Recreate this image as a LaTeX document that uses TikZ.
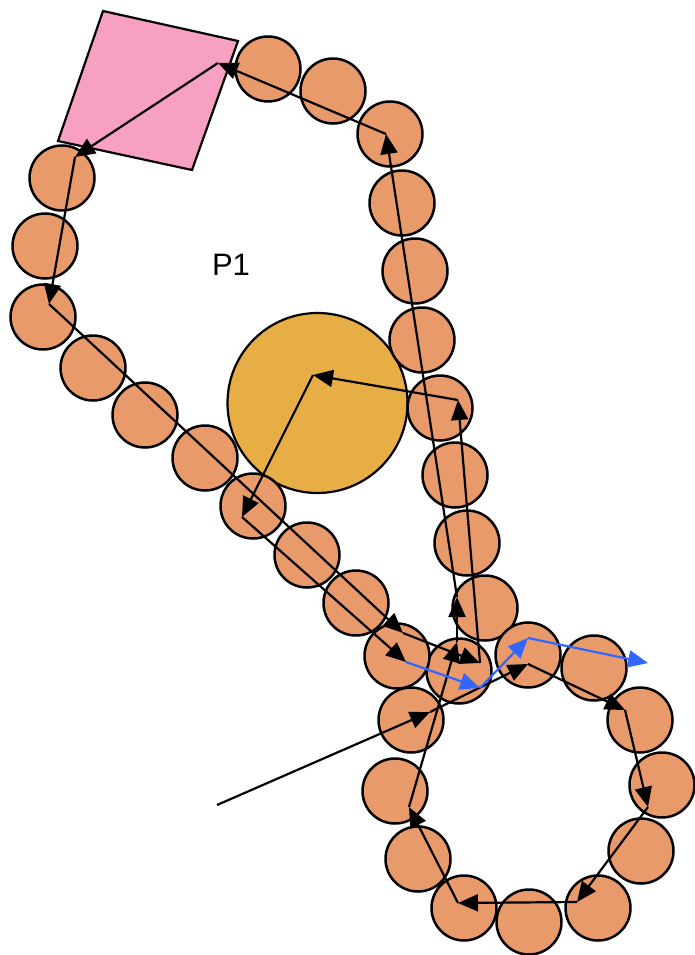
\documentclass[tikz,border=0pt]{standalone}
\usepackage{fontspec}
\setmainfont{Liberation Sans}
\usetikzlibrary{arrows.meta}
\definecolor{beadcol}{RGB}{233,154,106}
\definecolor{goldcol}{RGB}{230,174,68}
\definecolor{pinkcol}{RGB}{248,160,194}
\definecolor{bluecol}{RGB}{51,102,255}
\tikzset{
  bead/.style={circle, draw=black, line width=2.5pt, fill=beadcol, minimum size=65pt, inner sep=0pt},
  bigbead/.style={circle, draw=black, line width=2.2pt, fill=goldcol, minimum size=180pt, inner sep=0pt},
  sqbox/.style={draw=black, line width=2.2pt, fill=pinkcol, line join=miter},
  arr/.style={draw=black, line width=2.2pt, -{Triangle[length=20pt,width=17pt]}},
  barr/.style={draw=bluecol, line width=2.2pt, -{Triangle[length=20pt,width=17pt]}},
  lbl/.style={font=\fontsize{31}{36}\selectfont, inner sep=0pt}
}
\begin{document}
\begin{tikzpicture}[x=1pt,y=-1pt]
\useasboundingbox (0,0) rectangle (694,955);
% big gold circle
\node[bigbead] (big) at (317.5,403) {};
% pink square
\coordinate (q1) at (103,11);
\coordinate (q2) at (238,41);
\coordinate (q3) at (192,170);
\coordinate (q4) at (58,141);
\draw[sqbox] (q1) -- (q2) -- (q3) -- (q4) -- cycle;
% beads
\foreach \n/\x/\y in {
 1/268/69, 2/333/91, 3/390/134, 4/402/203, 5/415/271, 6/422/340, 7/440/408,
 8/455/475, 9/467/543, 10/485/608, 11/528/655, 12/594/668, 13/640/720,
 14/662/785, 15/641/851, 16/598/908, 17/529/922, 18/464/908, 19/418/859,
 20/395/791, 21/411/720, 22/459/671, 23/397/656, 24/356/603, 25/307/555,
 26/253/506, 27/205/458, 28/145/415, 29/93/368, 30/43/317, 31/45/246, 32/62/178}
 { \node[bead] (c\n) at (\x,\y) {}; }
% path points
\coordinate (p0) at (217,805);
\coordinate (p1) at (430,712);
\coordinate (p2) at (528,664);
\coordinate (p3) at (625,710);
\coordinate (p4) at (648,807);
\coordinate (p5) at (577,902);
\coordinate (p6) at (458,903);
\coordinate (p7) at (409,807);
\coordinate (p8) at (457,642);
\coordinate (p9) at (457,597);
\coordinate (p10) at (386,134);
\coordinate (p11) at (218,63);
\coordinate (p12) at (75,157);
\coordinate (p13) at (49,304);
\coordinate (p14) at (403,633);
\coordinate (p15) at (480,663);
\coordinate (p16) at (458,400);
\coordinate (p17) at (313,375);
\coordinate (p18) at (242,517);
\coordinate (p19) at (406,662);
\coordinate (p20) at (480,688);
\coordinate (p21) at (528,638);
\coordinate (p22) at (648,663);
% black arrows
\draw[arr] (p0) -- (p1);
\draw[arr] (p1) -- (p2);
\draw[arr] (p2) -- (p3);
\draw[arr] (p3) -- (p4);
\draw[arr] (p4) -- (p5);
\draw[arr] (p5) -- (p6);
\draw[arr] (p6) -- (p7);
\draw[arr] (p7) -- (p8);
\draw[arr] (p8) -- (p9);
\draw[arr] (p9) -- (p10);
\draw[arr] (p10) -- (p11);
\draw[arr] (p11) -- (p12);
\draw[arr] (p12) -- (p13);
\draw[arr] (p13) -- (p14);
\draw[arr] (p14) -- (p15);
\draw[arr] (p15) -- (p16);
\draw[arr] (p16) -- (p17);
\draw[arr] (p17) -- (p18);
\draw[arr] (p18) -- (p19);
% blue arrows
\draw[barr] (p19) -- (p20);
\draw[barr] (p20) -- (p21);
\draw[barr] (p21) -- (p22);
% label
\node[lbl] (P1) at (231,265) {P1};
\end{tikzpicture}
\end{document}
